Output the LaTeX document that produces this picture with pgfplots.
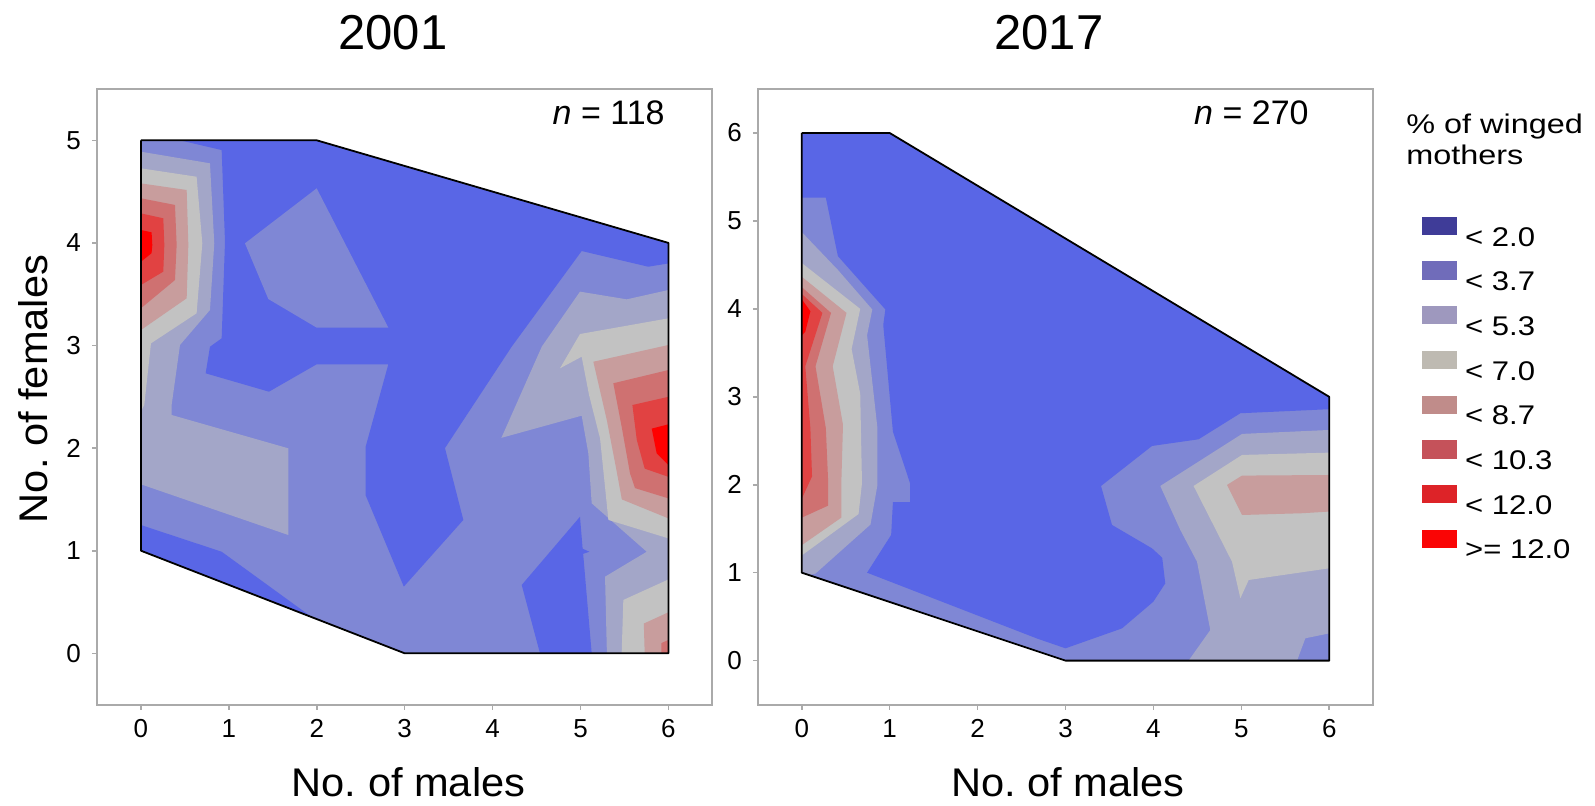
\documentclass[border=0pt]{standalone}
\usepackage{pgfplots}
\pgfplotsset{compat=1.18}
\usepackage{graphicx}
\usepackage{fontspec}
\setmainfont{Liberation Sans}
% plot colours
\definecolor{P1}{RGB}{89,102,230}
\definecolor{P2}{RGB}{127,135,213}
\definecolor{P3}{RGB}{163,166,200}
\definecolor{P4}{RGB}{194,194,194}
\definecolor{P5}{RGB}{200,157,157}
\definecolor{P6}{RGB}{207,113,113}
\definecolor{P7}{RGB}{225,66,66}
\definecolor{P8}{RGB}{255,0,0}
% legend colours
\definecolor{G1}{RGB}{63,60,152}
\definecolor{G2}{RGB}{112,108,186}
\definecolor{G3}{RGB}{158,152,190}
\definecolor{G4}{RGB}{190,186,178}
\definecolor{G5}{RGB}{192,140,138}
\definecolor{G6}{RGB}{197,82,90}
\definecolor{G7}{RGB}{221,35,40}
\definecolor{G8}{RGB}{250,5,5}
\definecolor{frame}{RGB}{170,170,170}
\pgfplotsset{
  panel/.style={
    scale only axis, width=307.7pt, height=307.8pt,
    anchor=south west,
    xmin=-0.5, xmax=6.5, ymin=-0.5,
    xtick={0,...,6},
    axis line style={draw=frame, line width=1pt},
    tick style={draw=frame, line width=0.8pt},
    tick align=outside, major tick length=2.5pt,
    tick pos=left,
    /pgf/number format/assume math mode=true,
    ticklabel style={font=\fontsize{13}{15}\selectfont},
    xticklabel style={yshift=-1.5pt},
    yticklabel style={xshift=-2pt},
  },
  reg/.style={fill=#1, draw=none},
}
\begin{document}
\begin{tikzpicture}
\path[use as bounding box] (0pt,0pt) rectangle (797.5pt,402.5pt);
% ---------------- 2001 ----------------
\begin{axis}[panel, at={(48.5pt,50.2pt)}, ymax=5.5, ytick={0,...,5}]
\addplot[reg=P2] coordinates {(0,5) (2,5) (6,4) (6,0) (3,0) (0,1)};
\addplot[reg=P1] coordinates {(0.444,5) (0.918,4.905) (0.956,4.012) (0.918,3.07) (0.785,2.988) (0.736,2.729) (1.456,2.55) (1.999,2.817) (2.814,2.817) (2.556,2.014) (2.556,1.54) (2.99,0.65) (3.667,1.30) (3.458,2.0) (4.218,2.99) (5.013,3.921) (5.77,3.768) (6,3.80) (6,4) (2,5)};
\addplot[reg=P1] coordinates {(0,1.25) (0.918,0.99) (1.942,0.353) (0,1)};
\addplot[reg=P1] coordinates {(4.331,0.666) (4.994,1.331) (5.024,1.02) (5.1,0.99) (5.03,0.97) (5.127,0) (4.539,0)};
\addplot[reg=P2] coordinates {(1.183,3.996) (1.999,4.532) (2.814,3.174) (1.999,3.174) (1.449,3.453)};
\addplot[reg=P3] coordinates {(0,4.889) (0.785,4.776) (0.834,3.996) (0.785,3.346) (0.444,3.005) (0.349,2.42) (0.349,2.323) (1.676,1.998) (1.676,1.153) (0,1.647)};
\addplot[reg=P3] coordinates {(6,3.541) (5.526,3.45) (4.994,3.525) (4.56,2.99) (4.10,2.10) (5.013,2.316) (5.089,1.949) (5.127,1.462) (5.753,0.99) (5.279,0.747) (5.30,0) (6,0)};
\addplot[reg=P4] coordinates {(0,4.727) (0.633,4.645) (0.698,3.996) (0.633,3.314) (0.114,3.021) (0.038,2.42) (0,2.36)};
\addplot[reg=P4] coordinates {(6,3.265) (4.994,3.112) (4.767,2.778) (5.013,2.891) (5.097,2.518) (5.222,2.095) (5.317,1.30) (6,1.12)};
\addplot[reg=P4] coordinates {(6,0.72) (5.487,0.52) (5.468,0) (6,0)};
\addplot[reg=P5] coordinates {(0,4.58) (0.52,4.516) (0.539,3.98) (0.52,3.46) (0,3.151)};
\addplot[reg=P5] coordinates {(6,3.005) (5.146,2.842) (5.30,2.27) (5.41,1.78) (5.47,1.5) (6,1.315)};
\addplot[reg=P5] coordinates {(6,0.40) (5.72,0.29) (5.73,0) (6,0)};
\addplot[reg=P6] coordinates {(0,4.435) (0.387,4.37) (0.406,3.98) (0.387,3.638) (0,3.363)};
\addplot[reg=P6] coordinates {(6,2.761) (5.373,2.632) (5.468,2.209) (5.563,1.754) (5.62,1.61) (6,1.51)};
\addplot[reg=P6] coordinates {(6,0.13) (5.92,0.1) (5.92,0) (6,0)};
\addplot[reg=P7] coordinates {(0,4.288) (0.254,4.24) (0.266,3.98) (0.254,3.72) (0,3.59)};
\addplot[reg=P7] coordinates {(6,2.50) (5.59,2.42) (5.64,2.08) (5.73,1.80) (6,1.72)};
\addplot[reg=P8] coordinates {(0,4.126) (0.121,4.103) (0.129,3.98) (0.121,3.9) (0,3.817)};
\addplot[reg=P8] coordinates {(6,2.232) (5.81,2.19) (5.866,1.95) (6,1.835)};
\addplot[black, line width=0.9pt, line join=round] coordinates {(0,5) (2,5) (6,4) (6,0) (3,0) (0,1) (0,5)};
\end{axis}
% ---------------- 2017 ----------------
\begin{axis}[panel, at={(378.9pt,50.2pt)}, ymax=6.5, ytick={0,...,6}]
\addplot[reg=P2] coordinates {(0,6) (1,6) (6,3) (6,0) (3,0) (0,1)};
\addplot[reg=P1] coordinates {(0,6) (0,5.264) (0.274,5.264) (0.411,4.6) (0.951,3.993) (0.927,3.817) (1.037,2.604) (1.232,2.017) (1.232,1.802) (1.037,1.802) (1.017,1.43) (0.743,1.0) (2.68,0.25) (3.0,0.14) (3.643,0.367) (3.999,0.67) (4.135,0.879) (4.10,1.17) (3.984,1.277) (3.529,1.543) (3.404,1.986) (3.984,2.441) (4.514,2.517) (4.989,2.813) (6,2.859) (6,3) (1,6)};
\addplot[reg=P3] coordinates {(0,4.873) (0.411,4.443) (0.802,3.993) (0.743,3.7) (0.861,2.643) (0.861,1.998) (0.782,1.548) (0.156,0.99) (0.08,0.973) (0,1)};
\addplot[reg=P3] coordinates {(6,2.623) (5.008,2.578) (4.078,1.986) (4.306,1.486) (4.496,1.125) (4.647,0.348) (4.40,0) (5.634,0) (5.728,0.254) (6,0.31)};
\addplot[reg=P4] coordinates {(0,4.521) (0.665,4.0) (0.567,3.543) (0.665,3.034) (0.685,2.017) (0.646,1.667) (0,1.196)};
\addplot[reg=P4] coordinates {(6,2.365) (5.008,2.339) (4.457,1.986) (4.894,1.125) (4.989,0.709) (5.084,0.917) (6,1.05)};
\addplot[reg=P5] coordinates {(0,4.365) (0.509,3.954) (0.352,3.347) (0.469,2.682) (0.45,2.017) (0.45,1.626) (0,1.313)};
\addplot[reg=P5] coordinates {(6,2.111) (5.008,2.104) (4.837,1.998) (5.008,1.656) (5.69,1.676) (6,1.695)};
\addplot[reg=P6] coordinates {(0,4.247) (0.333,3.954) (0.156,3.347) (0.274,2.643) (0.301,2.017) (0.301,1.763) (0,1.626)};
\addplot[reg=P7] coordinates {(0,4.169) (0.235,3.954) (0.04,3.347) (0.098,2.643) (0.117,2.095) (0,1.841)};
\addplot[reg=P8] coordinates {(0,4.11) (0.098,3.973) (0.04,3.74) (0,3.7)};
\addplot[black, line width=0.9pt, line join=round] coordinates {(0,6) (1,6) (6,3) (6,0) (3,0) (0,1) (0,6)};
\end{axis}
% ---------------- titles and labels ----------------
\node[anchor=base, font=\fontsize{24.5}{28}\selectfont] at (196.5pt,377.85pt) {2001};
\node[anchor=base, font=\fontsize{24.5}{28}\selectfont] at (524.5pt,377.85pt) {2017};
\node[anchor=base, rotate=90, inner sep=0pt, font=\fontsize{20}{24}\selectfont] at (23.9pt,208pt) {\scalebox{1.04}[1]{No.\ of females}};
\node[anchor=base, inner sep=0pt, font=\fontsize{20}{24}\selectfont] at (204.25pt,4.15pt) {\scalebox{1.04}[1]{No.\ of males}};
\node[anchor=base, inner sep=0pt, font=\fontsize{20}{24}\selectfont] at (534pt,4.15pt) {\scalebox{1.04}[1]{No.\ of males}};
\node[anchor=base east, inner sep=0pt, font=\fontsize{17}{20}\selectfont] at (332.5pt,340pt) {\textit{n} = 118};
\node[anchor=base east, inner sep=0pt, font=\fontsize{17}{20}\selectfont] at (654.5pt,340pt) {\textit{n} = 270};
% ---------------- legend ----------------
\node[anchor=base west, inner sep=0pt, font=\fontsize{13.5}{16}\selectfont] at (703pt,335.85pt) {\scalebox{1.2}[1]{\% of winged}};
\node[anchor=base west, inner sep=0pt, font=\fontsize{13.5}{16}\selectfont] at (703pt,320pt) {\scalebox{1.2}[1]{mothers}};
\foreach \c/\t [count=\i from 0] in {G1/{< 2.0},G2/{< 3.7},G3/{< 5.3},G4/{< 7.0},G5/{< 8.7},G6/{< 10.3},G7/{< 12.0},G8/{>= 12.0}}{
  \fill[\c] (711pt,{294.15pt-22.35pt*\i}) rectangle (728.35pt,{285pt-22.35pt*\i});
  \node[anchor=base west, inner sep=0pt, font=\fontsize{13.5}{16}\selectfont] at (732.4pt,{279.5pt-22.35pt*\i}) {\scalebox{1.15}[1]{\t}};
}
\end{tikzpicture}
\end{document}
